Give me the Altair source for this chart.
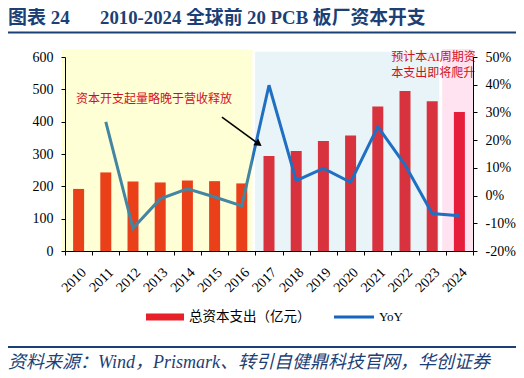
import altair as alt
import pandas as pd

# ---------------- data ----------------
years = [str(y) for y in range(2010, 2025)]
capex = [192, 243, 215, 212, 218, 216, 209, 294, 309, 340, 357, 447, 495, 463, 430]
bar_colors = ["#E61C1F"] * 7 + ["#D9323F"] * 7 + ["#E61E3C"]

yoy_years = years[1:]
yoy = [0.266, -0.118, -0.012, 0.024, -0.005, -0.037, 0.398,
       0.054, 0.098, 0.048, 0.249, 0.111, -0.065, -0.073]

left_ticks = [0, 100, 200, 300, 400, 500, 600]
right_ticks = [-0.2, -0.1, 0.0, 0.1, 0.2, 0.3, 0.4, 0.5]

# shaded periods (in year units)
bg_start = [2016.49, 2023.37]
bg_end = [2023.26, 2024.5]
bg_top = [616, 625]
bg_color = ["#E8F4F7", "#FFE3F1"]
yellow_start = [2009.38]
yellow_end = [2016.39]
yellow_top = [624]

title_head = "图表 24"
title_text = "2010-2024 全球前 20 PCB 板厂资本开支"
source_text = "资料来源：Wind，Prismark、转引自健鼎科技官网，华创证券"
legend_bar = "总资本支出（亿元）"
legend_line = "YoY"
note_left = "资本开支起量略晚于营收释放"
note_right = ["预计本AI周期资", "本支出即将爬升"]
note_left_pos = (2012.77, 470)
note_right_x = 2021.49
note_right_y = [601, 549]
arrow_from = (2015.27, 414)
arrow_to = (2016.62, 331)

W, H = 408, 194
SERIF = '"Liberation Serif", "Noto Sans CJK SC"'
CJK = '"Liberation Serif", "Noto Sans CJK SC"'
NAVY = "#1C3F75"
RED = "#D0101C"

xq = alt.Scale(domain=[2009.5, 2024.5], nice=False, zero=False)
yl = alt.Scale(domain=[0, 600], nice=False)

df = pd.DataFrame({"year": years, "capex": capex, "c": bar_colors})
dfl = pd.DataFrame({"year": yoy_years, "yoy": yoy})
dbg = pd.DataFrame({"s": bg_start, "e": bg_end, "top": bg_top, "col": bg_color, "b": [0] * len(bg_start)})
dyl = pd.DataFrame({"s": yellow_start, "e": yellow_end, "top": yellow_top, "b": [0]})
one = pd.DataFrame({"k": [0]})

axis_common = dict(labelFont="Liberation Serif", labelFontSize=14, labelColor="black",
                   domainColor="black", tickColor="black", tickSize=4, grid=False,
                   title=None, zindex=1)

bg = alt.Chart(dbg).mark_rect().encode(
    x=alt.X("s:Q", scale=xq, axis=None), x2="e:Q",
    y=alt.Y("top:Q", scale=yl, axis=None), y2="b:Q",
    color=alt.Color("col:N", scale=None))

bars = alt.Chart(df).mark_bar(size=11).encode(
    x=alt.X("year:N", sort=years,
            scale=alt.Scale(type="band", domain=years, paddingInner=0, paddingOuter=0),
            axis=alt.Axis(labelAngle=315, tickBand="extent", labelPadding=10, **axis_common)),
    y=alt.Y("capex:Q", scale=yl,
            axis=alt.Axis(orient="left", values=left_ticks, labelPadding=8, **axis_common)),
    color=alt.Color("c:N", scale=None))

line = alt.Chart(dfl).mark_line(strokeWidth=3, color="#1F6FC2").encode(
    x=alt.X("year:N", sort=years,
            scale=alt.Scale(type="point", domain=years, padding=0.5), axis=None),
    y=alt.Y("yoy:Q", scale=alt.Scale(domain=[-0.2, 0.5], nice=False),
            axis=alt.Axis(orient="right", values=right_ticks, labelPadding=8,
                          labelExpr="round(datum.value*100) + '%'", **axis_common)))

yellow = alt.Chart(dyl).mark_rect(color="#FFFF00", opacity=0.16).encode(
    x=alt.X("s:Q", scale=xq, axis=None), x2="e:Q",
    y=alt.Y("top:Q", scale=yl, axis=None), y2="b:Q")

darrow = pd.DataFrame({"x": [arrow_from[0]], "y": [arrow_from[1]],
                       "x2": [arrow_to[0]], "y2": [arrow_to[1]]})
arrow_line = alt.Chart(darrow).mark_rule(color="black", strokeWidth=1.5).encode(
    x=alt.X("x:Q", scale=xq, axis=None), x2="x2:Q",
    y=alt.Y("y:Q", scale=yl, axis=None), y2="y2:Q")
arrow_head = alt.Chart(darrow).mark_point(shape="triangle-right", filled=True, color="black",
                                          size=70, angle=36, opacity=1).encode(
    x=alt.X("x2:Q", scale=xq, axis=None),
    y=alt.Y("y2:Q", scale=yl, axis=None))

dnl = pd.DataFrame({"t": [note_left], "x": [note_left_pos[0]], "y": [note_left_pos[1]]})
txt_left = alt.Chart(dnl).mark_text(font=CJK, fontSize=12, color=RED, align="center",
                                    baseline="middle").encode(
    x=alt.X("x:Q", scale=xq, axis=None), y=alt.Y("y:Q", scale=yl, axis=None), text="t:N")

dnr = pd.DataFrame({"t": note_right, "x": [note_right_x] * 2, "y": note_right_y})
txt_right = alt.Chart(dnr).mark_text(font=CJK, fontSize=12, color=RED, align="left",
                                     baseline="middle").encode(
    x=alt.X("x:Q", scale=xq, axis=None), y=alt.Y("y:Q", scale=yl, axis=None), text="t:N")

# ---------- page decorations (title, rules, legend, source) ----------
title1 = alt.Chart(pd.DataFrame({"t": [title_head]})).mark_text(
    font=SERIF, fontSize=19, fontWeight="bold", color=NAVY, align="left", baseline="middle"
).encode(text="t:N", x=alt.value(-57), y=alt.value(-39.5))
title2 = alt.Chart(pd.DataFrame({"t": [title_text]})).mark_text(
    font=SERIF, fontSize=18.8, fontWeight="bold", color=NAVY, align="left", baseline="middle"
).encode(text="t:N", x=alt.value(35), y=alt.value(-39.5))

rule_top = alt.Chart(one).mark_rule(color=NAVY, strokeWidth=2).encode(
    x=alt.value(-59.5), x2=alt.value(451.5), y=alt.value(-24.5))
rule_bot = alt.Chart(one).mark_rule(color=NAVY, strokeWidth=2).encode(
    x=alt.value(-59.5), x2=alt.value(451.5), y=alt.value(290))

source = alt.Chart(pd.DataFrame({"t": [source_text]})).mark_text(
    font=CJK, fontSize=18, fontStyle="italic", color=NAVY, align="left", baseline="middle"
).encode(text="t:N", x=alt.value(-57), y=alt.value(306))

leg_rect = alt.Chart(one).mark_rect(color="#E8202A").encode(
    x=alt.value(81), x2=alt.value(119), y=alt.value(256.5), y2=alt.value(263.5))
leg_rect_txt = alt.Chart(pd.DataFrame({"t": [legend_bar]})).mark_text(
    font=CJK, fontSize=13.5, color="black", align="left", baseline="middle"
).encode(text="t:N", x=alt.value(124), y=alt.value(260))
leg_line = alt.Chart(one).mark_rule(color="#1565C0", strokeWidth=3).encode(
    x=alt.value(269), x2=alt.value(309), y=alt.value(260))
leg_line_txt = alt.Chart(pd.DataFrame({"t": [legend_line]})).mark_text(
    font="Liberation Serif", fontSize=13, color="black", align="left", baseline="middle"
).encode(text="t:N", x=alt.value(314), y=alt.value(260))

chart = alt.layer(
    bg, bars, line, yellow, arrow_line, arrow_head, txt_left, txt_right,
    title1, title2, rule_top, rule_bot, source, leg_rect, leg_rect_txt, leg_line, leg_line_txt
).resolve_scale(x="independent", y="independent").properties(
    width=W, height=H,
    autosize=alt.AutoSizeParams(type="none"),
    padding={"left": 57, "top": 49, "right": 43, "bottom": 120},
).configure_view(stroke=None)

chart.save("out.html", embed_options={"renderer": "svg", "actions": False})
